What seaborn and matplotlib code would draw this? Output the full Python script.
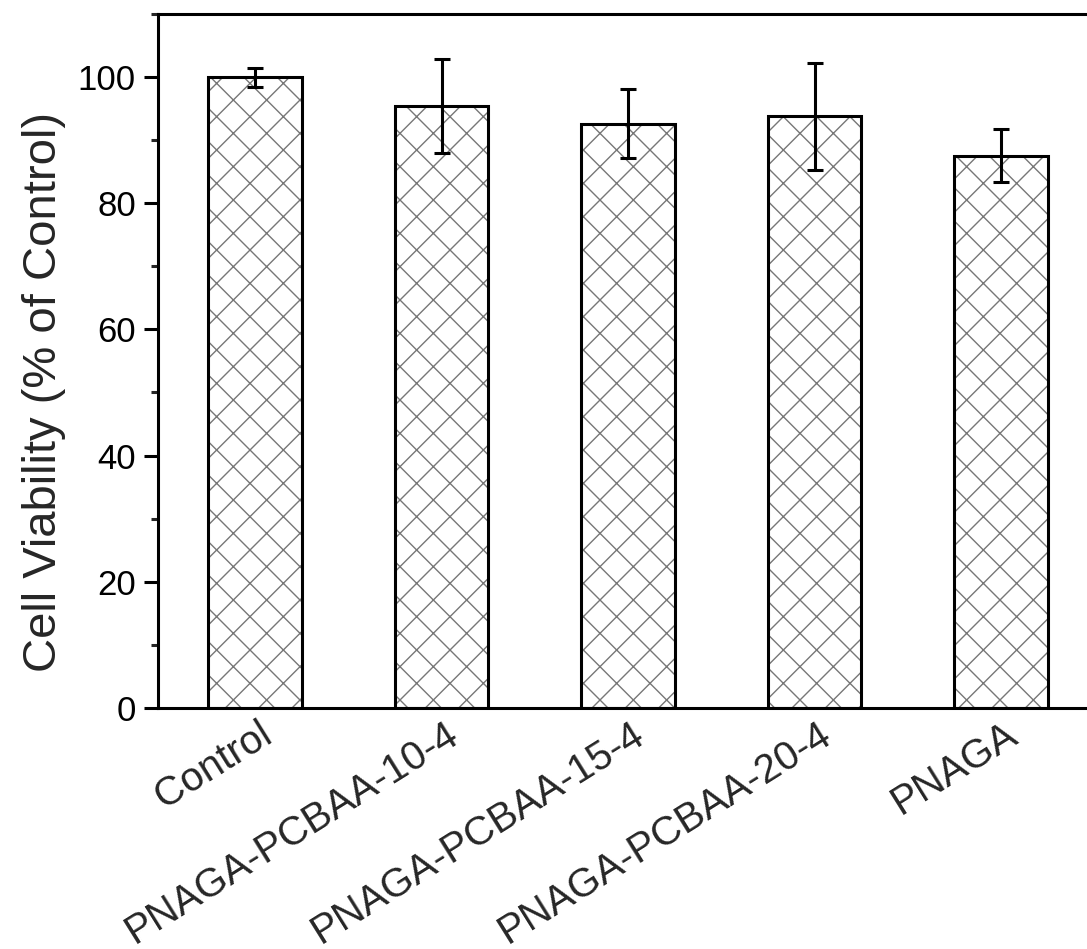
import numpy as np
import pandas as pd
import matplotlib
matplotlib.use('Agg')
import matplotlib.pyplot as plt
import matplotlib.transforms as mtransforms
from matplotlib.ticker import MultipleLocator
import seaborn as sns

# values
groups = ['Control', 'PNAGA-PCBAA-10-4', 'PNAGA-PCBAA-15-4',
          'PNAGA-PCBAA-20-4', 'PNAGA']
viability = [100.0, 95.4, 92.6, 93.8, 87.5]
viability_sd = [1.5, 7.4, 5.5, 8.5, 4.2]
y_ticks = [0, 20, 40, 60, 80, 100]

sns.set_style('ticks')
plt.rcParams['font.family'] = ['Liberation Sans', 'DejaVu Sans']
plt.rcParams['hatch.linewidth'] = 1.0

df = pd.DataFrame({'group': groups, 'viability': viability})

fig = plt.figure(figsize=(10.87, 9.49), dpi=100)
ax = fig.add_axes([0.1454, 0.254, 0.8648, 0.7313])

# gray cross-hatch fill
sns.barplot(data=df, x='group', y='viability', order=groups, width=0.5,
            color='white', edgecolor='#777777', linewidth=0, hatch='x',
            errorbar=None, ax=ax, zorder=2)
# black outline on top
sns.barplot(data=df, x='group', y='viability', order=groups, width=0.5,
            color='black', fill=False, linewidth=2.2,
            errorbar=None, ax=ax, zorder=3)

ax.errorbar(np.arange(len(groups)), viability, yerr=viability_sd, fmt='none',
            ecolor='black', elinewidth=2.2, capsize=5.5, capthick=2.2, zorder=5)

ax.set_xlim(-0.52, len(groups) - 0.48)
ax.set_ylim(0, 110)
ax.set_yticks(y_ticks)
ax.yaxis.set_minor_locator(MultipleLocator(10))

for sp in ax.spines.values():
    sp.set_linewidth(2.2)
    sp.set_color('black')

ax.tick_params(axis='y', which='major', direction='out', length=10, width=2.2,
               labelsize=25, pad=6, colors='black')
ax.tick_params(axis='y', which='minor', direction='out', length=5, width=2.2)
ax.tick_params(axis='x', length=0, pad=5)

ax.set_xticks(range(len(groups)))
ax.set_xticklabels(groups, rotation=32, ha='right', rotation_mode='anchor',
                   fontsize=29)
shift = mtransforms.ScaledTranslation(0.03, 0, fig.dpi_scale_trans)
for lab in ax.get_xticklabels():
    lab.set_transform(lab.get_transform() + shift)

ax.set_xlabel('')
ax.set_ylabel('Cell Viability (% of Control)', fontsize=34)
ax.yaxis.set_label_coords(-0.098, 0.455)

fig.savefig('out.png', dpi=100, facecolor='white')
